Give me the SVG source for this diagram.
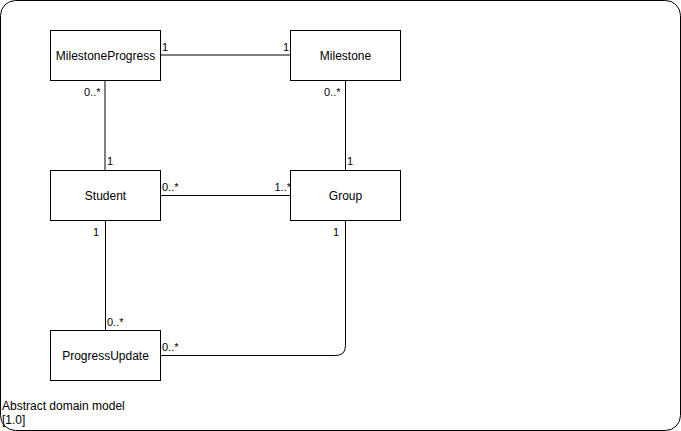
<svg xmlns="http://www.w3.org/2000/svg" width="681" height="431" viewBox="0 0 681 431">
  <style>
    .frame { fill: #ffffff; stroke: #000000; stroke-width: 1; }
    .node rect { fill: #ffffff; stroke: #000000; stroke-width: 1; }
    .node text { font-family: "Liberation Sans", Arial, sans-serif; font-size: 12px; fill: #000000; text-anchor: middle; }
    .edge { fill: none; stroke: #000000; stroke-width: 1; }
    .mult { font-family: "Liberation Sans", Arial, sans-serif; font-size: 11px; fill: #000000; }
    .end { text-anchor: end; }
    .caption { font-family: "Liberation Sans", Arial, sans-serif; font-size: 12px; fill: #000000; }
  </style>

  <!-- outer frame -->
  <rect class="frame" x="0.5" y="0.5" width="680" height="430" rx="15" ry="15"/>
  <text class="caption" x="2" y="410">Abstract domain model</text>
  <text class="caption" x="2" y="424">[1.0]</text>

  <!-- associations -->
  <g id="connectors">
    <path class="edge" d="M160.5 55 H290.5"/>
    <path class="edge" d="M105 80.5 V170.5"/>
    <path class="edge" d="M345.5 80.5 V170.5"/>
    <path class="edge" d="M160.5 195.5 H290.5"/>
    <path class="edge" d="M105.5 220.5 V330.5"/>
    <path class="edge" d="M345.5 220.5 V345.5 Q345.5 355.5 335.5 355.5 H160.5"/>

    <text class="mult" x="162" y="51">1</text>
    <text class="mult end" x="289" y="51">1</text>
    <text class="mult" x="84" y="96">0..*</text>
    <text class="mult" x="107" y="165">1</text>
    <text class="mult" x="324" y="96">0..*</text>
    <text class="mult" x="347" y="165">1</text>
    <text class="mult" x="162" y="191">0..*</text>
    <text class="mult end" x="291" y="191">1..*</text>
    <text class="mult" x="93" y="236">1</text>
    <text class="mult" x="333" y="236">1</text>
    <text class="mult" x="107" y="326">0..*</text>
    <text class="mult" x="162" y="351">0..*</text>
  </g>

  <g id="MilestoneProgress" class="node">
    <rect x="50.5" y="30.5" width="110" height="50"/>
    <text x="105.5" y="60">MilestoneProgress</text>
  </g>
  <g id="Milestone" class="node">
    <rect x="290.5" y="30.5" width="110" height="50"/>
    <text x="345.5" y="60">Milestone</text>
  </g>
  <g id="Student" class="node">
    <rect x="50.5" y="170.5" width="110" height="50"/>
    <text x="105.5" y="200">Student</text>
  </g>
  <g id="Group" class="node">
    <rect x="290.5" y="170.5" width="110" height="50"/>
    <text x="345.5" y="200">Group</text>
  </g>
  <g id="ProgressUpdate" class="node">
    <rect x="50.5" y="330.5" width="110" height="50"/>
    <text x="105.5" y="360">ProgressUpdate</text>
  </g>
</svg>
